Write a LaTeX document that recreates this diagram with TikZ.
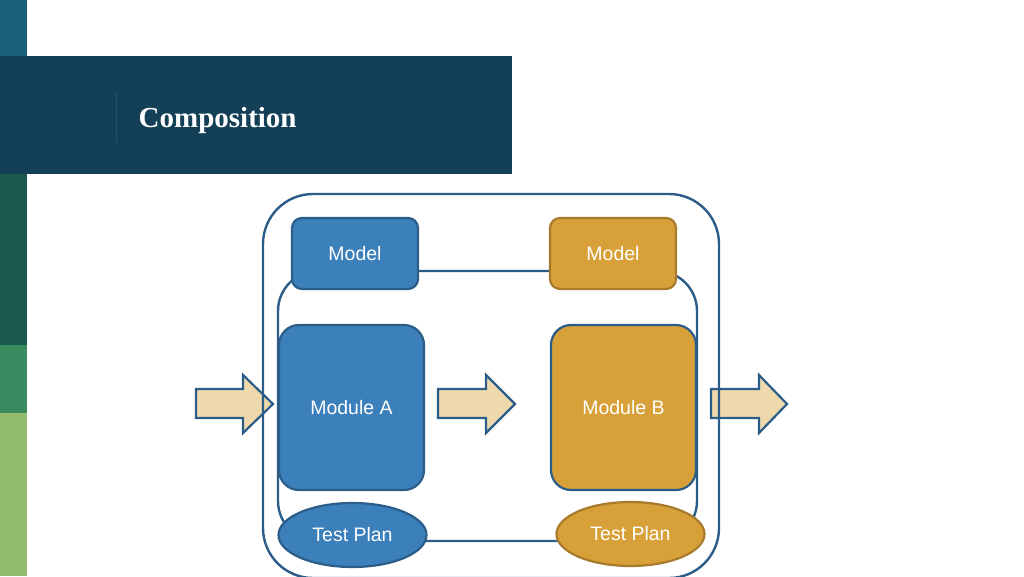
\documentclass[tikz,border=0pt]{standalone}
\usepackage{fontspec}
\setmainfont{Liberation Sans}
\newfontfamily\titlefont{Liberation Serif}
\usetikzlibrary{shapes.geometric}
\definecolor{barA}{HTML}{1B6079}
\definecolor{header}{HTML}{133F57}
\definecolor{barB}{HTML}{1A5950}
\definecolor{barC}{HTML}{3A8B60}
\definecolor{barD}{HTML}{93BC6C}
\definecolor{hline}{HTML}{21506A}
\definecolor{bluefill}{HTML}{3B7FBB}
\definecolor{blueedge}{HTML}{2C5D88}
\definecolor{orangefill}{HTML}{D7A039}
\definecolor{orangeedge}{HTML}{A87B2C}
\definecolor{beige}{HTML}{EFD9AC}
\tikzset{
  txt/.style={text=white, font=\fontsize{19.5}{22}\selectfont, inner sep=0pt},
  modelbox/.style={txt, rectangle, rounded corners=10pt, line width=2.2pt, minimum width=126pt, minimum height=71pt},
  modulebox/.style={txt, rectangle, rounded corners=20pt, line width=2.2pt, draw=blueedge, minimum width=145pt, minimum height=165pt},
  planbox/.style={txt, ellipse, line width=2.2pt, minimum width=148pt, minimum height=64pt},
  frame/.style={draw=blueedge, line width=2.4pt},
  blockarrow/.style={fill=beige, draw=blueedge, line width=2.2pt, line join=miter},
}
\begin{document}
\begin{tikzpicture}[x=1pt,y=-1pt]
\useasboundingbox (0,0) rectangle (1024,576);
\clip (0,0) rectangle (1024,576);
% side bar and header
\fill[barA] (0,0) rectangle (27,56);
\fill[barB] (0,174) rectangle (27,345);
\fill[barC] (0,345) rectangle (27,413);
\fill[barD] (0,413) rectangle (27,576);
\fill[header] (0,56) rectangle (512,174);
\draw[hline, line width=1pt] (116,92) -- (116,143);
\node[anchor=base west, inner sep=0pt, text=white, font=\titlefont\bfseries\fontsize{29}{32}\selectfont] (title) at (138.5,127) {Composition};
% inner frame
\draw[frame, rounded corners=40pt] (278,271) rectangle (697,541);
% block arrows
\draw[blockarrow] (196,389) -- (243,389) -- (243,375) -- (273,404) -- (243,433) -- (243,418) -- (196,418) -- cycle;
\draw[blockarrow] (438,389) -- (486,389) -- (486,375) -- (515,404) -- (486,433) -- (486,418) -- (438,418) -- cycle;
\draw[blockarrow] (711,389) -- (759,389) -- (759,375) -- (787,404) -- (759,433) -- (759,418) -- (711,418) -- cycle;
% outer frame
\draw[frame, rounded corners=50pt] (263,194) rectangle (719,578);
% nodes
\node[modelbox, fill=bluefill, draw=blueedge] (modelA) at (355,253.5) {Model};
\node[modelbox, fill=orangefill, draw=orangeedge] (modelB) at (613,253.5) {Model};
\node[modulebox, fill=bluefill] (moduleA) at (351.5,407.5) {Module A};
\node[modulebox, fill=orangefill] (moduleB) at (623.5,407.5) {Module B};
\node[planbox, fill=bluefill, draw=blueedge] (planA) at (352.5,535) {Test Plan};
\node[planbox, fill=orangefill, draw=orangeedge] (planB) at (630.5,534) {Test Plan};
\end{tikzpicture}
\end{document}
